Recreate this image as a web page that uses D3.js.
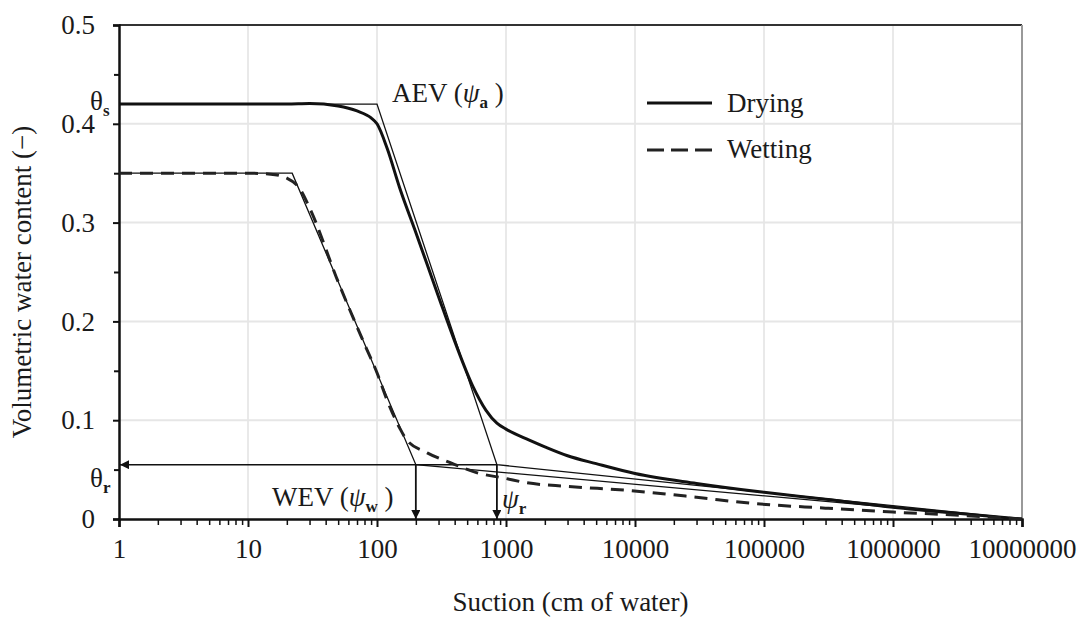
<!DOCTYPE html>
<html>
<head>
<meta charset="utf-8">
<script src="https://cdn.jsdelivr.net/npm/d3@7"></script>
<style>
  body { margin: 0; background: #fff; }
</style>
</head>
<body>
<div id="chart"></div>
<script>
// measured curves (suction in cm of water, volumetric water content)
const dryingSuction = [1, 20, 30, 50, 70, 90, 100, 120, 150, 200, 300, 400, 550, 700, 850, 1000, 1500, 2000, 3000, 5000, 10000, 30000, 100000, 300000, 1000000, 3000000, 10000000];
const dryingTheta   = [0.42, 0.42, 0.4205, 0.418, 0.413, 0.406, 0.40, 0.375, 0.335, 0.29, 0.225, 0.18, 0.135, 0.11, 0.097, 0.091, 0.08, 0.073, 0.064, 0.056, 0.046, 0.036, 0.027, 0.02, 0.012, 0.006, 0];

const wettingSuction = [1, 10, 15, 20, 25, 30, 50, 80, 100, 120, 150, 170, 245, 370, 590, 1000, 1400, 3000, 8700, 30000, 78000, 300000, 1000000, 3000000, 10000000];
const wettingTheta   = [0.35, 0.35, 0.349, 0.345, 0.335, 0.315, 0.24, 0.177, 0.148, 0.12, 0.092, 0.08, 0.067, 0.057, 0.047, 0.041, 0.037, 0.033, 0.029, 0.022, 0.016, 0.011, 0.007, 0.004, 0];

// piecewise-linear idealisations
const thetaS = 0.42, thetaW = 0.35, thetaR = 0.055;
const psiA = 100, psiW0 = 22, psiW = 200, psiR = 850, psiMax = 10000000;
const dryingFit  = [[1, thetaS], [psiA, thetaS], [psiR, thetaR], [psiMax, 0]];
const wettingFit = [[1, thetaW], [psiW0, thetaW], [psiW, thetaR], [psiMax, 0]];

const xTicks = [1, 10, 100, 1000, 10000, 100000, 1000000, 10000000];
const yTicks = [0, 0.1, 0.2, 0.3, 0.4, 0.5];
const yMinor = [0.05, 0.15, 0.25, 0.35, 0.45];

const W = 1080, H = 617;
const margin = { top: 25, right: 58, bottom: 98, left: 119 };
const width = W - margin.left - margin.right;
const height = H - margin.top - margin.bottom;
const FONT = "'Liberation Serif', 'DejaVu Serif', serif";

const svg = d3.select('#chart').append('svg')
    .attr('width', W).attr('height', H);

const defs = svg.append('defs');
defs.append('marker').attr('id', 'arrow')
    .attr('viewBox', '0 0 10 10').attr('refX', 10).attr('refY', 5)
    .attr('markerWidth', 9).attr('markerHeight', 9).attr('markerUnits', 'userSpaceOnUse')
    .attr('orient', 'auto')
    .append('path').attr('d', 'M0,0L10,5L0,10Z').attr('fill', '#111');

const g = svg.append('g').attr('transform', `translate(${margin.left},${margin.top})`);

const x = d3.scaleLog().domain([1, 10000000]).range([0, width]);
const y = d3.scaleLinear().domain([0, 0.5]).range([height, 0]);

// grid
g.append('g').selectAll('line').data(xTicks.slice(1, -1)).join('line')
    .attr('x1', d => x(d)).attr('x2', d => x(d))
    .attr('y1', 0).attr('y2', height)
    .attr('stroke', '#e2e2e2').attr('stroke-width', 1.5);
g.append('g').selectAll('line').data(yTicks.slice(1, -1)).join('line')
    .attr('x1', 0).attr('x2', width)
    .attr('y1', d => y(d)).attr('y2', d => y(d))
    .attr('stroke', '#e6e6e6').attr('stroke-width', 2);
g.append('line').attr('x1', 0).attr('x2', width).attr('y1', y(0.5)).attr('y2', y(0.5))
    .attr('stroke', '#333').attr('stroke-width', 2);
g.append('line').attr('x1', width).attr('x2', width).attr('y1', 0).attr('y2', height)
    .attr('stroke', '#999').attr('stroke-width', 2);

// axes
const minorX = [];
xTicks.slice(0, -1).forEach(d => { for (let k = 2; k <= 9; k++) minorX.push(d * k); });

g.append('g').attr('transform', `translate(0,${height})`)
    .call(d3.axisBottom(x).tickValues(minorX).tickSize(6).tickFormat(''))
    .call(a => a.select('.domain').remove())
    .selectAll('line').attr('stroke', '#111').attr('stroke-width', 1.5);

const xAxis = g.append('g').attr('transform', `translate(0,${height})`)
    .call(d3.axisBottom(x).tickValues(xTicks).tickSize(8).tickPadding(12)
        .tickFormat(d3.format('d')));
xAxis.select('.domain').attr('stroke', '#111').attr('stroke-width', 2.5);
xAxis.selectAll('line').attr('stroke', '#111').attr('stroke-width', 2);
xAxis.selectAll('text').attr('font-size', 27);

g.append('g')
    .call(d3.axisLeft(y).tickValues(yMinor).tickSize(5).tickFormat(''))
    .call(a => a.select('.domain').remove())
    .selectAll('line').attr('stroke', '#111').attr('stroke-width', 2);

const yAxis = g.append('g')
    .call(d3.axisLeft(y).tickValues(yTicks).tickSize(6).tickPadding(18)
        .tickFormat(d => d === 0 ? '0' : d3.format('.1f')(d)));
yAxis.select('.domain').attr('stroke', '#111').attr('stroke-width', 2.5);
yAxis.selectAll('line').attr('stroke', '#111').attr('stroke-width', 2);
yAxis.selectAll('text').attr('font-size', 27);

// idealised lines
const fitLine = d3.line().x(d => x(d[0])).y(d => y(d[1]));
g.append('path').datum(dryingFit).attr('d', fitLine)
    .attr('fill', 'none').attr('stroke', '#111').attr('stroke-width', 1.3);
g.append('path').datum(wettingFit).attr('d', fitLine)
    .attr('fill', 'none').attr('stroke', '#111').attr('stroke-width', 1.3);

// residual line and arrows
g.append('line')
    .attr('x1', x(psiR)).attr('x2', x(1) + 1)
    .attr('y1', y(thetaR)).attr('y2', y(thetaR))
    .attr('stroke', '#111').attr('stroke-width', 1.5).attr('marker-end', 'url(#arrow)');
[psiW, psiR].forEach(p => {
    g.append('line')
        .attr('x1', x(p)).attr('x2', x(p))
        .attr('y1', y(thetaR)).attr('y2', y(0))
        .attr('stroke', '#111').attr('stroke-width', 1.8).attr('marker-end', 'url(#arrow)');
});

// measured curves
const curve = d3.line().x(d => x(d[0])).y(d => y(d[1])).curve(d3.curveMonotoneX);
g.append('path').datum(d3.zip(dryingSuction, dryingTheta)).attr('d', curve)
    .attr('fill', 'none').attr('stroke', '#111').attr('stroke-width', 3);
g.append('path').datum(d3.zip(wettingSuction, wettingTheta)).attr('d', curve)
    .attr('fill', 'none').attr('stroke', '#222').attr('stroke-width', 3)
    .attr('stroke-dasharray', '13,8');

// annotations
function label(xp, yp, parts, anchor) {
    const t = svg.append('text').attr('x', xp).attr('y', yp)
        .attr('font-size', 27).attr('text-anchor', anchor || 'start');
    parts.forEach(p => {
        const s = t.append('tspan').text(p.t);
        if (p.sub) s.attr('font-size', 17).attr('dy', 6).attr('font-weight', 'bold');
        if (p.up) s.attr('dy', -6);
        if (p.it) s.attr('font-style', 'italic');
    });
    return t;
}
label(90, 110, [{ t: 'θ' }, { t: 's', sub: true }]);
label(90, 487, [{ t: 'θ' }, { t: 'r', sub: true }]);
label(392, 102, [{ t: 'AEV (' }, { t: 'ψ', it: true }, { t: 'a', sub: true }, { t: ' )', up: true }]);
label(272, 506, [{ t: 'WEV (' }, { t: 'ψ', it: true }, { t: 'w', sub: true }, { t: ' )', up: true }]);
label(502, 508, [{ t: 'ψ', it: true }, { t: 'r', sub: true }]);

// legend
const legend = svg.append('g').attr('transform', 'translate(647,103)');
legend.append('line').attr('x1', 0).attr('x2', 65).attr('y1', 0).attr('y2', 0)
    .attr('stroke', '#111').attr('stroke-width', 3);
legend.append('line').attr('x1', 0).attr('x2', 65).attr('y1', 47).attr('y2', 47)
    .attr('stroke', '#222').attr('stroke-width', 3).attr('stroke-dasharray', '17,7');
legend.append('text').attr('x', 80).attr('y', 9).attr('font-size', 27).text('Drying');
legend.append('text').attr('x', 80).attr('y', 55).attr('font-size', 27).text('Wetting');

// axis titles
svg.append('text').attr('x', margin.left + width / 2).attr('y', 611)
    .attr('text-anchor', 'middle').attr('font-size', 27).text('Suction (cm of water)');
svg.append('text').attr('transform', 'translate(31,282) rotate(-90)')
    .attr('text-anchor', 'middle').attr('font-size', 27).text('Volumetric water content (−)');

// same serif face on every label, set inline
svg.selectAll('text')
    .style('font-family', FONT)
    .style('fill', '#1a1a1a');
</script>
</body>
</html>
